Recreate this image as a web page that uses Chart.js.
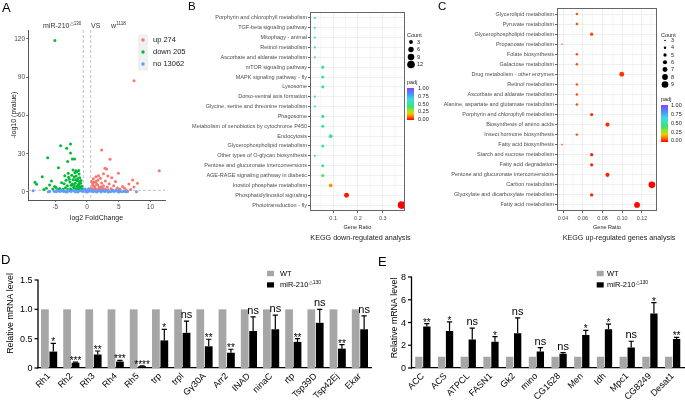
<!DOCTYPE html>
<html><head><meta charset="utf-8">
<script src="https://cdn.jsdelivr.net/npm/chart.js@4.4.1/dist/chart.umd.min.js"></script>
<style>
html,body{margin:0;padding:0;background:#fff;width:685px;height:400px;overflow:hidden;position:relative}
canvas{position:absolute}
.ytick{position:absolute;z-index:10;width:30px;text-align:right;font:9px 'Liberation Sans',Arial,sans-serif;line-height:12px;height:12px;color:#000;white-space:nowrap}
</style></head><body>
<canvas id="cA" width="200" height="235" style="left:0;top:0;width:200px;height:235px"></canvas>
<canvas id="cB" width="260" height="245" style="left:175px;top:0;width:260px;height:245px"></canvas>
<canvas id="cC" width="255" height="245" style="left:430px;top:0;width:255px;height:245px"></canvas>
<canvas id="cD" width="380" height="155" style="left:0;top:245px;width:380px;height:155px"></canvas>
<canvas id="cE" width="340" height="155" style="left:345px;top:245px;width:340px;height:155px"></canvas>
<script>
// ---------------- DATA ----------------
const volcanoUp = [[7.42,87.3],[2.32,33],[3.63,25.6],[11.4,16.7],[2.84,18.6],[3.1,18],[4.95,14.6],[7.2,9.4],[7.95,6.8],[6.6,6.2],[5.6,4.2],[4.5,8.3],[3.9,11.2],[3.3,12.5],[2.6,14.2],[2.1,10.8],[1.7,9.1],[1.4,11.9],[1.1,7.6],[0.9,5.3],[0.7,3.1],[1.2,4.4],[1.5,6.2],[1.9,3.5],[2.3,7.1],[2.6,4.9],[2.9,8.6],[3.2,3.8],[3.5,6.4],[3.8,2.6],[4.2,4.9],[4.8,3.1],[5.2,2.2],[5.9,3.0],[6.9,2.0],[0.8,2.0],[1.0,1.6],[1.3,2.6],[1.6,1.9],[2.0,2.3],[2.4,1.7],[2.8,2.4],[3.3,1.8],[4.0,1.5],[0.75,8.2],[1.0,10.3],[1.8,12.8],[2.5,2.8],[4.6,1.7],[6.2,1.6],[7.4,3.8],[1.2,3.0],[1.7,5.4],[2.2,4.1],[0.9,6.6],[1.4,8.3]];
const volcanoDown = [[-5.06,118.7],[-4.16,36.3],[-2.6,37.6],[-3.2,34.3],[-2.6,30.5],[-6.2,26.9],[-2.3,25.9],[-1.95,25.9],[-3.05,23.8],[-4.5,19],[-1.75,16.7],[-1.9,15],[-7.05,12],[-2.95,14.6],[-5.6,8.6],[-8.2,7.6],[-7.95,6],[-5.9,5.4],[-5.1,4.3],[-4.0,7.3],[-3.6,6.5],[-3.3,9.2],[-3.1,4.8],[-2.9,11.5],[-2.7,7.8],[-2.5,5.2],[-2.4,13.2],[-2.2,9.5],[-2.1,3.6],[-2.0,11.8],[-1.85,6.9],[-1.7,12.6],[-1.6,4.5],[-1.55,8.8],[-1.45,10.4],[-1.35,3.2],[-1.3,6.1],[-1.2,8.2],[-1.1,4.1],[-1.0,6.8],[-0.9,2.6],[-0.8,4.4],[-0.7,2.2],[-1.25,14.1],[-1.6,15.8],[-2.2,17.2],[-1.95,2.9],[-2.6,2.4],[-3.0,2.1],[-3.4,3.3],[-3.8,2.2],[-4.3,2.7],[-4.6,1.9],[-4.9,3.5],[-5.4,2.4],[-6.4,3.0],[-6.8,2.0],[-1.5,1.8],[-1.2,2.0],[-0.85,1.7],[-2.4,1.6],[-1.8,9.6],[-2.8,9.9],[-3.5,12.8],[-1.4,5.3],[-1.0,3.4],[-2.3,6.2],[-1.15,11.2],[-0.95,8.9],[-1.65,2.4],[-2.05,5.1],[-1.3,16.9]];
const volcanoNo = [[-8.5,0.9],[-5.9,0.3],[-6.1,0.1],[-5.2,0.6],[-4.9,0.2],[-4.6,0.8],[-4.3,0.4],[-4.0,1.0],[-3.7,0.3],[-3.4,0.7],[-3.1,0.1],[-2.8,0.9],[-2.5,0.4],[-2.2,1.1],[-1.9,0.2],[-1.6,0.8],[-1.3,0.5],[-1.0,1.0],[-0.7,0.3],[-0.5,1.6],[-0.3,2.4],[-0.1,0.9],[0.1,1.8],[0.3,2.6],[0.5,1.2],[0.2,0.4],[-0.2,0.2],[0.7,0.6],[1.0,0.2],[1.3,0.9],[1.6,0.4],[1.9,1.0],[2.2,0.2],[2.5,0.7],[2.8,0.3],[3.1,1.1],[3.4,0.5],[3.7,0.1],[4.0,0.8],[4.3,0.3],[4.6,0.9],[4.9,0.2],[5.2,0.6],[5.5,0.1],[5.8,0.5],[6.1,0.2],[6.4,0.4],[7.8,0.2],[-4.8,1.2],[-3.9,1.3],[-2.9,1.25],[-1.8,1.2],[-0.9,1.3],[0.9,1.25],[2.0,1.3],[3.0,1.2],[4.1,1.25],[5.0,1.1],[-3.3,0.0],[-1.5,0.0],[0.0,0.0],[1.5,0.0],[3.3,0.0],[5.0,0.0]];
const volcanoLegend = ['up 274','down 205','no 13062'];
const fcCut = 0.585, pCut = 1.3;

const downPathways = ['Porphyrin and chlorophyll metabolism','TGF-beta signaling pathway','Mitophagy - animal','Retinol metabolism','Ascorbate and aldarate metabolism','mTOR signaling pathway','MAPK signaling pathway - fly','Lysosome','Dorso-ventral axis formation','Glycine, serine and threonine metabolism','Phagosome','Metabolism of xenobiotics by cytochrome P450','Endocytosis','Glycerophospholipid metabolism','Other types of O-glycan biosynthesis','Pentose and glucuronate interconversions','AGE-RAGE signaling pathway in diabetic','Inositol phosphate metabolism','Phosphatidylinositol signaling','Phototransduction - fly'];
const downRatio = [0.026,0.026,0.026,0.026,0.026,0.058,0.058,0.058,0.026,0.026,0.058,0.058,0.09,0.058,0.026,0.058,0.058,0.09,0.154,0.376];
const downCount = [1,1,1,1,1,2,2,2,1,1,2,2,3,2,1,2,2,3,5,12];
const downPadj = [0.62,0.62,0.62,0.62,0.62,0.5,0.5,0.5,0.62,0.62,0.5,0.5,0.47,0.5,0.62,0.5,0.4,0.15,0.02,0.0];
const downCountLegend = [3,6,9,12];

const upPathways = ['Glycerolipid metabolism','Pyruvate metabolism','Glycerophospholipid metabolism','Propanoate metabolism','Folate biosynthesis','Galactose metabolism','Drug metabolism - other enzymes','Retinol metabolism','Ascorbate and aldarate metabolism','Alanine, aspartate and glutamate metabolism','Porphyrin and chlorophyll metabolism','Biosynthesis of amino acids','Insect hormone biosynthesis','Fatty acid biosynthesis','Starch and sucrose metabolism','Fatty acid degradation','Pentose and glucuronate interconversions','Carbon metabolism','Glyoxylate and dicarboxylate metabolism','Fatty acid metabolism'];
const upRatio = [0.054,0.054,0.069,0.039,0.054,0.054,0.0995,0.054,0.054,0.054,0.069,0.085,0.054,0.039,0.069,0.069,0.085,0.130,0.069,0.115];
const upCount = [4,4,5,3,4,4,7,4,4,4,5,6,4,3,5,5,6,9,5,8];
const upPadj = [0.07,0.07,0.06,0.07,0.07,0.07,0.05,0.07,0.07,0.07,0.05,0.04,0.07,0.07,0.03,0.03,0.03,0.005,0.03,0.005];
const upCountLegend = [3,4,5,6,7,8,9];
const padjLegend = [1.00,0.75,0.50,0.25,0.00];

const photoGenes = ['Rh1','Rh2','Rh3','Rh4','Rh5','trp','trpl','G\u03B330A','Arr2','INAD','ninaC','rtp','Tsp39D','Tsp42Ej','Ekar'];
const photoWT = [1,1,1,1,1,1,1,1,1,1,1,1,1,1,1];
const photoMut = [0.28,0.09,0.23,0.11,0.03,0.47,0.60,0.37,0.26,0.63,0.66,0.445,0.77,0.33,0.66];
const photoErr = [0.42,0.10,0.29,0.13,0.035,0.66,0.80,0.49,0.32,0.87,0.90,0.50,1.00,0.40,0.89];
const photoSig = ['*','***','**','***','****','*','ns','**','**','ns','ns','**','ns','**','ns'];
const photoTicks = [0,0.5,1.0,1.5];

const lipidGenes = ['ACC','ACS','ATPCL','FASN1','Gk2','mino','CG1628','Men','Idh','Mpc1','CG8249','Desat1'];
const lipidWT = [1,1,1,1,1,1,1,1,1,1,1,1];
const lipidMut = [3.65,3.25,2.5,2.3,3.05,1.45,1.25,2.9,3.4,1.8,4.8,2.55];
const lipidErr = [3.9,4.05,3.5,2.75,4.4,1.8,1.35,3.3,3.85,2.35,5.75,2.7];
const lipidSig = ['**','*','ns','*','ns','ns','ns','*','*','ns','*','**'];
const lipidTicks = [0,2,4,6,8];

// ---------------- HELPERS ----------------
const FF = "'Liberation Sans', Arial, sans-serif";
Chart.defaults.font.family = FF;
Chart.defaults.animation = false;
Chart.defaults.responsive = false;
Chart.defaults.events = [];
Chart.defaults.plugins.legend.display = false;
Chart.defaults.plugins.tooltip.enabled = false;

const padjStops = [[0,[255,0,0]],[0.1,[255,110,0]],[0.2,[240,200,0]],[0.3,[150,230,40]],[0.42,[60,225,110]],[0.52,[60,225,170]],[0.65,[70,215,225]],[0.8,[70,150,255]],[1,[130,70,255]]];
function padjColor(v){
  for(let i=1;i<padjStops.length;i++){
    const [p1,c1]=padjStops[i-1],[p2,c2]=padjStops[i];
    if(v<=p2){const t=(v-p1)/(p2-p1);return 'rgb('+c1.map((c,k)=>Math.round(c+(c2[k]-c)*t)).join(',')+')';}
  }
  return 'rgb(130,70,255)';
}
const sizeB = c => 1.1*Math.sqrt(c);
const sizeC = c => 0.8 + (c-3)*0.42;

function txt(ctx,s,x,y,size,o){
  o=o||{};ctx.save();ctx.font=(o.w||'normal')+' '+size+'px '+FF;ctx.fillStyle=o.color||'#000';
  ctx.textAlign=o.align||'left';ctx.textBaseline=o.base||'middle';
  if(o.rot){ctx.translate(x,y);ctx.rotate(o.rot);ctx.fillText(s,0,0);}else ctx.fillText(s,x,y);
  const w=ctx.measureText(s).width;ctx.restore();return w;
}
function supText(ctx,main,sup,x,y,size,supSize,color){
  const w=txt(ctx,main,x,y,size,{color});
  const w2=txt(ctx,sup,x+w+0.3,y-size*0.35,supSize,{color});
  return w+w2;
}
function fixW(w){return s=>{s.width=w;};}
function fixH(h){return s=>{s.height=h;};}
function setTicks(arr){return s=>{s.ticks=arr.map(v=>({value:v}));};}
const rows = Array.from({length:20},(_,i)=>i+1);

// ---------------- PANEL A ----------------
const pluginA = {id:'pA',
  beforeDatasetsDraw(chart){
    const {ctx,chartArea:a,scales:{x,y}}=chart;
    ctx.save();ctx.strokeStyle='#b0b0b0';ctx.lineWidth=0.8;ctx.setLineDash([3,2]);
    [-fcCut,fcCut].forEach(v=>{const px=x.getPixelForValue(v);ctx.beginPath();ctx.moveTo(px,a.top);ctx.lineTo(px,a.bottom);ctx.stroke();});
    const py=y.getPixelForValue(pCut);ctx.beginPath();ctx.moveTo(a.left,py);ctx.lineTo(a.right,py);ctx.stroke();
    ctx.restore();
  },
  afterDraw(chart){
    const ctx=chart.ctx;
    txt(ctx,'A',2,8.5,13);
    supText(ctx,'miR-210','\u25B3130',43,26,7,4.5,'#333');
    txt(ctx,'VS',91,26,7,{color:'#333'});
    supText(ctx,'w','1118',111,26,7,4.5,'#333');
    const cols=['#F8766D','#00BA38','#619CFF'];
    ctx.save();
    ctx.fillStyle='#f0f0f0';ctx.fillRect(138,34.5,10,36);
    volcanoLegend.forEach((s,i)=>{
      const yy=40+12*i;
      ctx.fillStyle=cols[i];ctx.beginPath();ctx.arc(143,yy,1.7,0,Math.PI*2);ctx.fill();
      txt(ctx,s,153,yy,7.5,{color:'#222'});
    });
    ctx.restore();
  }};
new Chart(document.getElementById('cA'),{
  type:'scatter',
  data:{datasets:[
    {label:'no',data:volcanoNo.map(([x,y])=>({x,y})),backgroundColor:'#619CFF',pointRadius:1.5,borderWidth:0},
    {label:'down',data:volcanoDown.map(([x,y])=>({x,y})),backgroundColor:'#00BA38',pointRadius:1.5,borderWidth:0},
    {label:'up',data:volcanoUp.map(([x,y])=>({x,y})),backgroundColor:'#F8766D',pointRadius:1.5,borderWidth:0}
  ]},
  options:{
    layout:{padding:{left:0,right:35,top:30,bottom:0}},
    scales:{
      x:{type:'linear',min:-9.3,max:12.3,afterBuildTicks:setTicks([-5,0,5,10]),afterFit:fixH(35),
        grid:{display:true,drawOnChartArea:false,drawTicks:true,tickLength:2,color:'#555',lineWidth:0.8},
        border:{display:true,color:'#555',width:1},
        ticks:{font:{size:6.5},color:'#4d4d4d',padding:1},
        title:{display:true,text:'log2 FoldChange',font:{size:7},color:'#222',padding:{top:0,bottom:12.8}}},
      y:{type:'linear',min:-6.3,max:127,afterBuildTicks:setTicks([0,30,60,90,120]),afterFit:fixW(28),
        grid:{display:true,drawOnChartArea:false,drawTicks:true,tickLength:2,color:'#555',lineWidth:0.8},
        border:{display:true,color:'#555',width:1},
        ticks:{font:{size:6.5},color:'#4d4d4d',padding:1},
        title:{display:true,text:'-log10 (pvalue)',font:{size:7},color:'#222',padding:{top:9.8,bottom:0}}}
    }
  },
  plugins:[pluginA]
});

// ---------------- KEGG dot plots ----------------
function keggChart(id,names,ratio,count,padj,sizeFn,xmin,xmax,xTicks,isMajor,fmt,pad,yW,legend){
  const plugin={id:'kegg'+id,
    afterDraw(chart){
      const {ctx,chartArea:a}=chart;
      ctx.save();ctx.strokeStyle='#666';ctx.lineWidth=1;ctx.strokeRect(a.left+0.5,a.top+0.5,a.right-a.left-1,a.bottom-a.top-1);
      legend(ctx);
      ctx.restore();
    }};
  return new Chart(document.getElementById(id),{
    type:'scatter',
    data:{datasets:[{data:ratio.map((r,i)=>({x:r,y:i+1})),pointRadius:count.map(sizeFn),backgroundColor:padj.map(padjColor),borderWidth:0}]},
    options:{
      layout:{padding:pad},
      scales:{
        x:{type:'linear',min:xmin,max:xmax,afterBuildTicks:setTicks(xTicks),afterFit:fixH(34),
          grid:{display:true,drawOnChartArea:true,drawTicks:true,tickLength:2,
            color:c=>isMajor(c.tick.value)?'#ebebeb':'#f5f5f5',
            tickColor:c=>isMajor(c.tick.value)?'#333':'rgba(0,0,0,0)',lineWidth:0.8},
          border:{display:false},
          ticks:{font:{size:5.5},color:'#4d4d4d',padding:2,autoSkip:false,maxRotation:0,callback:v=>isMajor(v)?fmt(v):''},
          title:{display:true,text:'Gene Ratio',font:{size:5.5},color:'#222',padding:{top:0,bottom:14.5}}},
        y:{type:'linear',min:0.4,max:20.6,reverse:true,afterBuildTicks:setTicks(rows),afterFit:fixW(yW),
          grid:{display:true,drawOnChartArea:true,drawTicks:true,tickLength:2,color:'#ebebeb',tickColor:'#333',lineWidth:0.8},
          border:{display:false},
          ticks:{font:{size:5.5},color:'#4d4d4d',padding:1,autoSkip:false,callback:v=>names[v-1]||''}}
      }
    },
    plugins:[plugin]
  });
}
function colorbar(ctx,x,y0,y1,labX,labYs){
  const g=ctx.createLinearGradient(0,y0,0,y1);
  padjStops.forEach(([p,c])=>g.addColorStop(1-p,'rgb('+c.join(',')+')'));
  ctx.fillStyle=g;ctx.fillRect(x,y0,7,y1-y0);
  padjLegend.forEach((v,i)=>txt(ctx,v.toFixed(2),labX,labYs[i],5.5,{color:'#222'}));
}
keggChart('cB',downPathways,downRatio,downCount,downPadj,sizeB,0.0065,0.39,
  [0.05,0.1,0.15,0.2,0.25,0.3,0.35],v=>Math.abs(v*10-Math.round(v*10))<1e-6,v=>v.toFixed(1),
  {left:0,right:30,top:12,bottom:0},135,
  ctx=>{
    txt(ctx,'B',13,7,11.5);
    txt(ctx,'Count',232,35,5.5,{color:'#222'});
    const ys=[42,49.5,57,64.5];
    downCountLegend.forEach((c,i)=>{ctx.fillStyle='#000';ctx.beginPath();ctx.arc(236,ys[i],sizeB(c),0,Math.PI*2);ctx.fill();txt(ctx,String(c),242,ys[i],5.5,{color:'#222'});});
    txt(ctx,'padj',232,82,5.5,{color:'#222'});
    colorbar(ctx,232,88,120,243,[88.5,96.3,104,111.8,119.5]);
    txt(ctx,'KEGG down-regulated analysis',185.5,238,7.2,{align:'center',color:'#222'});
  });
keggChart('cC',upPathways,upRatio,upCount,upPadj,sizeC,0.0339,0.1352,
  [0.04,0.05,0.06,0.07,0.08,0.09,0.10,0.11,0.12,0.13],v=>Math.round(v*100)%2===0,v=>v.toFixed(2),
  {left:0,right:28,top:8,bottom:0},127,
  ctx=>{
    txt(ctx,'C',8,7,11.5);
    txt(ctx,'Count',231,35,5.5,{color:'#222'});
    const ys=[40.5,47.8,55,62.3,69.6,77,84.5];
    upCountLegend.forEach((c,i)=>{ctx.fillStyle='#000';ctx.beginPath();ctx.arc(235,ys[i],sizeC(c),0,Math.PI*2);ctx.fill();txt(ctx,String(c),241,ys[i],5.5,{color:'#222'});});
    txt(ctx,'padj',231,99,5.5,{color:'#222'});
    colorbar(ctx,231,105,142,241,[105.5,114.3,123.2,132,140.8]);
    txt(ctx,'KEGG up-regulated genes analysis',189,238,7.2,{align:'center',color:'#222'});
  });

// ---------------- BAR PANELS ----------------
function barChart(id,genes,wt,mut,err,sig,ymax,tickVals,tickFmt,yW,padR,padT,catPct,decor){
  const plugin={id:'bars'+id,
    afterDatasetsDraw(chart){
      const ctx=chart.ctx,meta=chart.getDatasetMeta(1),ys=chart.scales.y;
      ctx.save();ctx.strokeStyle='#000';ctx.lineWidth=1.2;
      err.forEach((e,i)=>{
        const el=meta.data[i],x=el.x,yt=el.y,ye=ys.getPixelForValue(e);
        ctx.beginPath();ctx.moveTo(x,yt);ctx.lineTo(x,ye);ctx.moveTo(x-2.6,ye);ctx.lineTo(x+2.6,ye);ctx.stroke();
        if(sig[i]==='ns') txt(ctx,'ns',x,ye-3,11,{align:'center',base:'alphabetic'});
        else txt(ctx,sig[i],x,ye+2,10,{align:'center',base:'alphabetic'});
      });
      ctx.restore();
    },
    afterDraw(chart){
      const ctx=chart.ctx,ys=chart.scales.y,a=chart.chartArea;
      ctx.save();
      ctx.strokeStyle='#000';ctx.lineWidth=1.3;
      ctx.beginPath();ctx.moveTo(a.left,a.bottom+0.6);ctx.lineTo(a.left,ys.getPixelForValue(ymax)-0.6);ctx.stroke();
      ctx.lineWidth=1.2;
      tickVals.forEach(v=>{
        const py=ys.getPixelForValue(v);
        ctx.beginPath();ctx.moveTo(a.left-3.5,py);ctx.lineTo(a.left,py);ctx.stroke();
      });
      decor(ctx);
      ctx.restore();
    }};
  const canvas=document.getElementById(id);
  const chart=new Chart(canvas,{
    type:'bar',
    data:{labels:genes,datasets:[
      {label:'WT',data:wt,backgroundColor:'#a6a6a6',barPercentage:0.92,categoryPercentage:catPct},
      {label:'miR-210\u25B3130',data:mut,backgroundColor:'#000',barPercentage:0.92,categoryPercentage:catPct}
    ]},
    options:{
      layout:{padding:{left:0,right:padR,top:padT,bottom:0}},
      scales:{
        x:{afterFit:fixH(32),grid:{display:false,drawTicks:false},border:{display:true,color:'#000',width:1.3},
          ticks:{minRotation:45,maxRotation:45,autoSkip:false,font:{size:9},color:'#000',padding:3}},
        y:{type:'linear',position:'left',min:0,max:ymax,afterBuildTicks:setTicks(tickVals),afterFit:fixW(yW),
          grid:{display:false,drawTicks:false},border:{display:false},
          ticks:{display:false}}
      }
    },
    plugins:[plugin]
  });
  // value-axis tick labels as real text, placed through the chart's y scale
  const cl=parseFloat(canvas.style.left)||0, ct=parseFloat(canvas.style.top)||0;
  const ys=chart.scales.y, a=chart.chartArea;
  tickVals.forEach(v=>{
    const d=document.createElement('div');
    d.className='ytick';
    d.textContent=tickFmt(v);
    d.style.left=(cl+a.left-5.5-30)+'px';
    d.style.top=(ct+ys.getPixelForValue(v)-6)+'px';
    document.body.appendChild(d);
  });
  return chart;
}
function barLegend(ctx,x,tx){
  ctx.fillStyle='#a6a6a6';ctx.fillRect(x,25.8,7,5.4);
  ctx.fillStyle='#000';ctx.fillRect(x,37.3,7,5.2);
  txt(ctx,'WT',tx,28.6,7.5);
  supText(ctx,'miR-210','\u25B3130',tx,40,7.5,5,'#000');
}
barChart('cD',photoGenes,photoWT,photoMut,photoErr,photoSig,1.5,photoTicks,v=>v===0?'0':v.toFixed(1),38,9,35,0.76,
  ctx=>{
    txt(ctx,'D',1,15,13);
    txt(ctx,'Relative mRNA level',11,68.5,8.8,{align:'center',rot:-Math.PI/2});
    barLegend(ctx,267,280);
  });
barChart('cE',lipidGenes,lipidWT,lipidMut,lipidErr,lipidSig,8,lipidTicks,v=>String(v),66.5,1,32,0.7,
  ctx=>{
    txt(ctx,'E',33,17,13);
    txt(ctx,'Relative mRNA level',50,73,8.8,{align:'center',rot:-Math.PI/2});
    barLegend(ctx,251.7,262);
  });
</script>
</body></html>
